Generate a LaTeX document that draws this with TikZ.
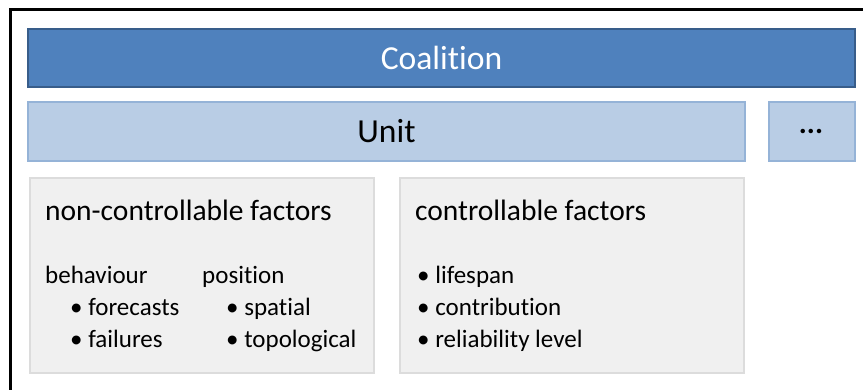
\documentclass[tikz,border=0pt]{standalone}
\usepackage{fontspec}
\setmainfont{Carlito}[Ligatures=NoCommon]
\usetikzlibrary{positioning}
\definecolor{coalfill}{HTML}{4F81BD}
\definecolor{coaldraw}{HTML}{385D8A}
\definecolor{unitfill}{HTML}{B9CDE5}
\definecolor{unitdraw}{HTML}{95B3D7}
\definecolor{factfill}{HTML}{F0F0F0}
\definecolor{factdraw}{HTML}{DCDCDC}
\begin{document}
\begin{tikzpicture}[x=1pt,y=-1pt]

        \useasboundingbox (0,0) rectangle (863,390);
        \draw[line width=3pt] (10,400) |- (875,10);

        \begin{scope}[every node/.style={rectangle, anchor=north west, inner sep=0pt, outer sep=0pt}]
          \node[fill=coalfill, draw=coaldraw, line width=1.5pt, minimum width=827pt, minimum height=58pt] (coalition) at (28,29) {};
          \node[fill=unitfill, draw=unitdraw, line width=1.5pt, minimum width=717pt, minimum height=59pt] (unit) at (28,102) {};
          \node[fill=unitfill, draw=unitdraw, line width=1.5pt, minimum width=86pt, minimum height=59pt] (more) at (769,102) {};
          \node[fill=factfill, draw=factdraw, line width=1.2pt, minimum width=344pt, minimum height=195pt] (nonctrl) at (30,178) {};
          \node[fill=factfill, draw=factdraw, line width=1.2pt, minimum width=344pt, minimum height=195pt] (ctrl) at (400,178) {};
        \end{scope}

        \node[text=white, font=\fontsize{33.6}{34}\selectfont] at (coalition) {Coalition};
        \node[font=\fontsize{33.6}{34}\selectfont] at (unit) {Unit};
        \node[font=\fontsize{30}{30}\selectfont\bfseries] at ([xshift=-1pt]more) {...};

        \begin{scope}[every node/.style={anchor=base west, inner sep=0pt, font=\fontsize{29.5}{30}\selectfont}]
          \node (nctitle) at (45,221) {non-controllable factors};
          \node (ctitle)  at (415,221) {controllable factors};
        \end{scope}

        \begin{scope}[every node/.style={anchor=base west, inner sep=0pt, font=\fontsize{25}{25}\selectfont}]
          \node (behav) at (45,284)  {behaviour};
          \node (fore)  at (70,316)  {• forecasts};
          \node (fail)  at (70,348)  {• failures};
          \node (pos)   at (202,284) {position};
          \node (spat)  at (226,316) {• spatial};
          \node (topo)  at (226,348) {• topological};
          \node (life)  at (417,284) {• lifespan};
          \node (contr) at (417,316) {• contribution};
          \node (reli)  at (417,348) {• reliability level};
        \end{scope}

      \end{tikzpicture}
\end{document}
